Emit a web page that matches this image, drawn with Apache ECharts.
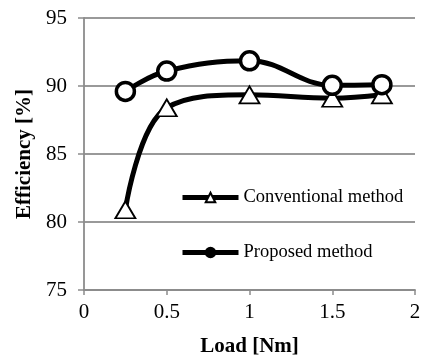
<!DOCTYPE html>
<html>
<head>
<meta charset="utf-8">
<script src="https://cdn.jsdelivr.net/npm/echarts@6/dist/echarts.min.js"></script>
<style>
  html, body { margin: 0; padding: 0; background: #fff; }
  #chart { width: 422px; height: 358px; }
</style>
</head>
<body>
<div id="chart"></div>
<script>
// 数据
const loads = [0.25, 0.5, 1, 1.5, 1.8]
const conventional = [80.9, 88.4, 89.35, 89.1, 89.35]
const proposed = [89.6, 91.1, 91.85, 90.05, 90.1]

const font = 'Liberation Serif, Times New Roman, serif'
const chart = echarts.init(document.getElementById('chart'))

const toPairs = arr => arr.map((v, i) => [loads[i], v])

let option = {
  animation: false,
  grid: {
    left: 84,
    right: 7,
    top: 18,
    bottom: 68,
    outerBoundsMode: 'none'
  },
  legend: {
    orient: 'vertical',
    left: 180,
    top: 188,
    padding: 0,
    itemGap: 36,
    itemWidth: 56,
    itemHeight: 12,
    selectedMode: false,
    lineStyle: { width: 5, color: '#000' },
    textStyle: {
      color: '#000',
      fontFamily: font,
      fontSize: 18.5
    },
    data: [
      { name: 'Conventional method' },
      { name: 'Proposed method', itemStyle: { color: '#000' } }
    ]
  },
  xAxis: {
    type: 'value',
    min: 0,
    max: 2,
    interval: 0.5,
    name: 'Load [Nm]',
    nameLocation: 'middle',
    nameGap: 46,
    nameTextStyle: {
      color: '#000',
      fontFamily: font,
      fontSize: 21,
      fontWeight: 'bold'
    },
    axisLine: { show: true, lineStyle: { color: '#8c8c8c', width: 1.8 } },
    axisTick: { show: true, length: 5, lineStyle: { color: '#8c8c8c', width: 1.5 } },
    axisLabel: { color: '#000', fontFamily: font, fontSize: 21, margin: 12 },
    splitLine: { show: false }
  },
  yAxis: {
    type: 'value',
    min: 75,
    max: 95,
    interval: 5,
    name: 'Efficiency [%]',
    nameLocation: 'middle',
    nameGap: 45,
    nameTextStyle: {
      color: '#000',
      fontFamily: font,
      fontSize: 21,
      fontWeight: 'bold'
    },
    axisLine: { show: true, lineStyle: { color: '#8c8c8c', width: 1.8 } },
    axisTick: { show: true, length: 6, lineStyle: { color: '#8c8c8c', width: 1.5 } },
    axisLabel: { color: '#000', fontFamily: font, fontSize: 21, margin: 17 },
    splitLine: { show: true, lineStyle: { color: '#999', width: 1.8 } }
  },
  series: [
    {
      name: 'Conventional method',
      type: 'line',
      data: toPairs(conventional),
      smooth: 0.4,
      symbol: 'triangle',
      symbolSize: [20, 17],
      lineStyle: { color: '#000', width: 5 },
      itemStyle: { color: '#fff', borderColor: '#000', borderWidth: 1.8 }
    },
    {
      name: 'Proposed method',
      type: 'line',
      data: toPairs(proposed),
      smooth: 0.4,
      symbol: 'circle',
      symbolSize: 18,
      lineStyle: { color: '#000', width: 5 },
      itemStyle: { color: '#fff', borderColor: '#000', borderWidth: 3.5 }
    }
  ]
}

chart.setOption(option)
</script>
</body>
</html>
